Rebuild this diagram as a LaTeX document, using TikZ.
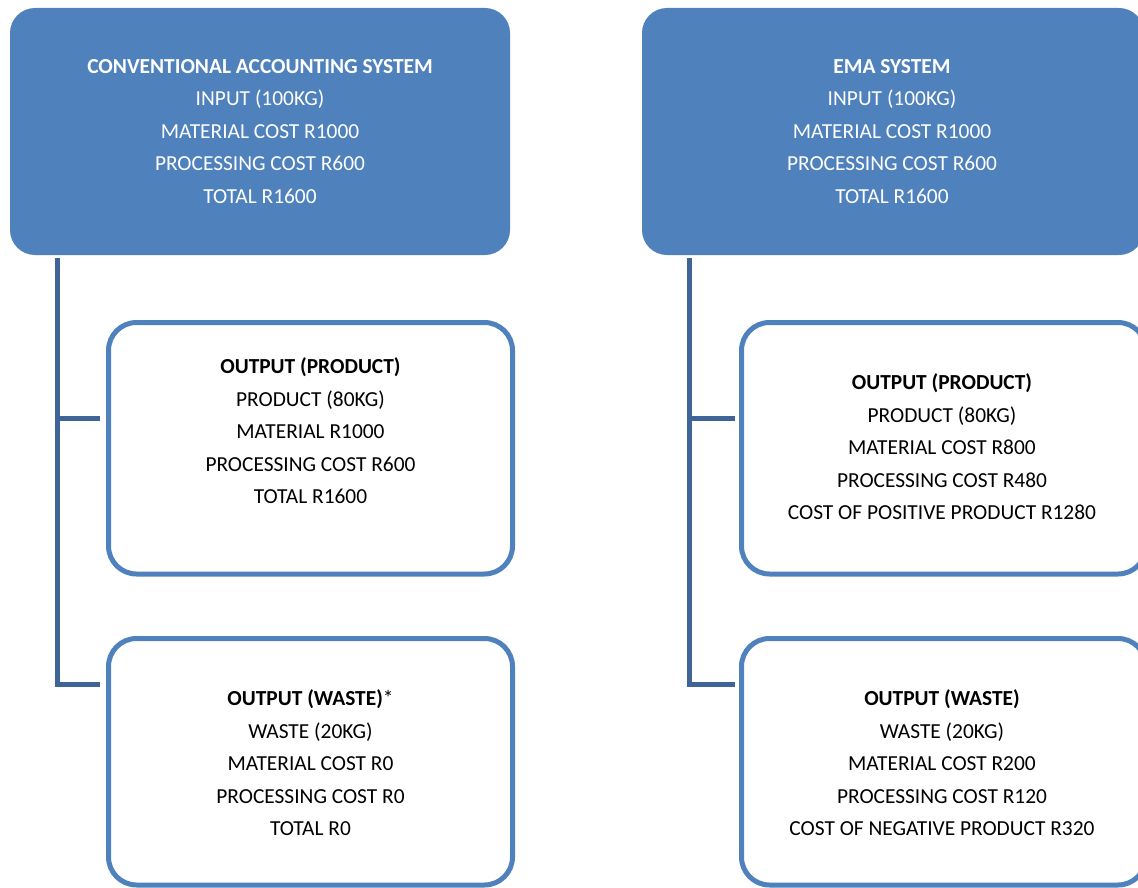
\documentclass[tikz,border=0pt]{standalone}
\usepackage{fontspec}
\setmainfont{Carlito}
\definecolor{boxblue}{HTML}{4F81BD}
\definecolor{linkblue}{HTML}{3F6598}
\begin{document}
\begin{tikzpicture}[x=1pt,y=-1pt,
  topbox/.style={fill=boxblue, draw=none, rounded corners=25pt},
  subbox/.style={draw=boxblue, line width=5pt, rounded corners=28pt, fill=white},
  link/.style={draw=linkblue, line width=5pt, line join=miter},
  toptext/.style={text=white, align=center, font=\fontsize{21.4}{32.5}\selectfont, inner sep=0pt},
  subtext/.style={text=black, align=center, font=\fontsize{21.4}{32.5}\selectfont, inner sep=0pt}]
\useasboundingbox (0,0) rectangle (1138,888);
% top boxes
\path[topbox] (10,8) rectangle (510,255);
\node[toptext] (convtext) at (260,131.5) {\textbf{CONVENTIONAL ACCOUNTING SYSTEM}\\INPUT (100KG)\\MATERIAL COST R1000\\PROCESSING COST R600\\TOTAL R1600};
\path[topbox] (642,8) rectangle (1144,255);
\node[toptext] (ematext) at (892,131.5) {\textbf{EMA SYSTEM}\\INPUT (100KG)\\MATERIAL COST R1000\\PROCESSING COST R600\\TOTAL R1600};
% sub boxes left
\path[subbox] (108.5,322.5) rectangle (512.5,574);
\node[subtext] (lprod) at (310.5,431) {\textbf{OUTPUT (PRODUCT)}\\PRODUCT (80KG)\\MATERIAL R1000\\PROCESSING COST R600\\TOTAL R1600};
\path[subbox] (108.5,638.5) rectangle (512.5,885);
\node[subtext] (lwaste) at (310.5,763) {\textbf{OUTPUT (WASTE)}*\\WASTE (20KG)\\MATERIAL COST R0\\PROCESSING COST R0\\TOTAL R0};
% sub boxes right
\path[subbox] (741.5,322.5) rectangle (1146,574);
\node[subtext] (rprod) at (942,447) {\textbf{OUTPUT (PRODUCT)}\\PRODUCT (80KG)\\MATERIAL COST R800\\PROCESSING COST R480\\COST OF POSITIVE PRODUCT R1280};
\path[subbox] (741.5,638.5) rectangle (1146,885);
\node[subtext] (rwaste) at (942,763) {\textbf{OUTPUT (WASTE)}\\WASTE (20KG)\\MATERIAL COST R200\\PROCESSING COST R120\\COST OF NEGATIVE PRODUCT R320};
% connectors left
\coordinate (lstart) at (57.5,258);
\coordinate (lmid) at (100,418);
\coordinate (lend) at (100,684);
\draw[link] (lstart) |- (lend);
\draw[link] (lstart |- lmid) -- (lmid);
% connectors right
\coordinate (rstart) at (689.5,258);
\coordinate (rmid) at (735,418);
\coordinate (rend) at (735,684);
\draw[link] (rstart) |- (rend);
\draw[link] (rstart |- rmid) -- (rmid);
\end{tikzpicture}
\end{document}
